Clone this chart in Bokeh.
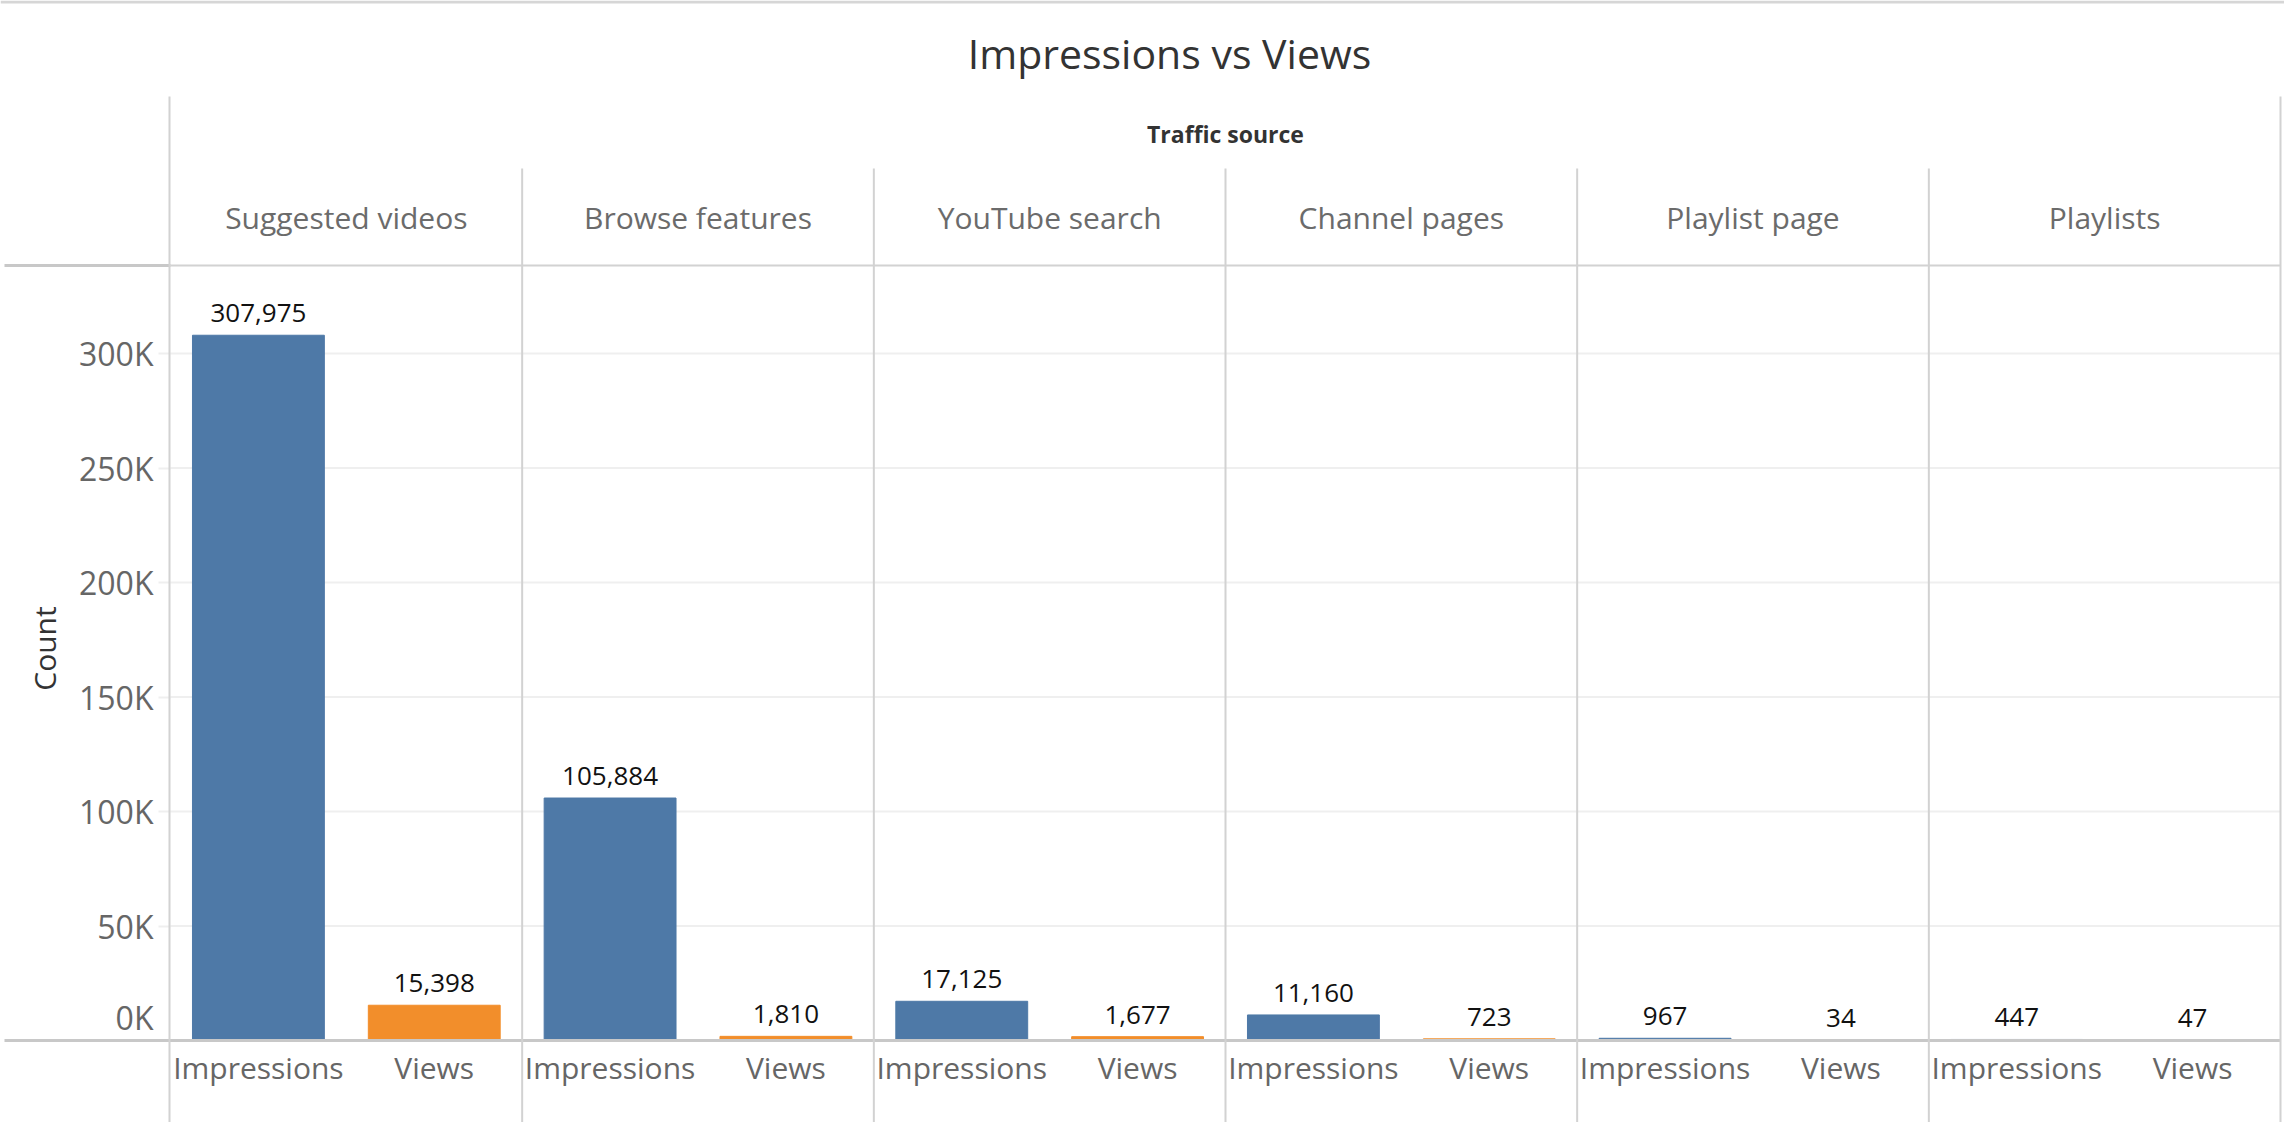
import math
from bokeh.plotting import figure
from bokeh.models import (Range1d, FixedTicker, ColumnDataSource, LinearAxis,
                          Label, BoxAnnotation)
from bokeh.core.properties import value
from bokeh.embed import file_html
from bokeh.resources import INLINE

# ---------------- data ----------------
TITLE = "Impressions vs Views"
HEADER = "Traffic source"
Y_LABEL = "Count"
sources = ["Suggested videos", "Browse features", "YouTube search",
           "Channel pages", "Playlist page", "Playlists"]
measures = ["Impressions", "Views"]
impressions = [307975, 105884, 17125, 11160, 967, 447]
views = [15398, 1810, 1677, 723, 34, 47]
y_ticks = [0, 50000, 100000, 150000, 200000, 250000, 300000]
y_tick_labels = ["0K", "50K", "100K", "150K", "200K", "250K", "300K"]

# ---------------- style / geometry ----------------
FONT = "Open Sans"
BLUE = "#4e79a7"
ORANGE = "#f28e2b"
LINE = "#d2d2d2"
DARKLINE = "#c8c8c8"
GRID = "#efefef"
W, H = 2284, 1122
FL, FR = 170, 2280              # left / right edge of the panel area (canvas px)
ZERO_Y, HEADER_Y = 1040, 265    # canvas y of value 0 and of the header rule
PPU = 687 / 300000              # pixels per unit of count

n_groups, n_meas = len(sources), len(measures)
n_slots = n_groups * n_meas
SLOT_W = (FR - FL) / n_slots    # pixels per category slot


def xd(canvas_x):               # canvas x px -> data x
    return (canvas_x - FL) / SLOT_W


def yd(canvas_y):               # canvas y px -> data y
    return (ZERO_Y - canvas_y) / PPU


def sy(canvas_y):               # canvas y px -> screen units (frame = canvas)
    return H - canvas_y


# category slots: one per (source, measure)
slot_x = [g * n_meas + m + 0.5 for g in range(n_groups) for m in range(n_meas)]
group_x = [g * n_meas + n_meas / 2 for g in range(n_groups)]
vals = [v for pair in zip(impressions, views) for v in pair]
colors = [c for _ in sources for c in (BLUE, ORANGE)]
labels = [f"{v:,}" for v in vals]
meas_names = [m for _ in sources for m in measures]
src = ColumnDataSource(dict(x=slot_x, top=vals, color=colors, label=labels))

y_header = yd(HEADER_Y)

p = figure(width=W, height=H,
           x_range=Range1d(xd(0), xd(W)), y_range=Range1d(yd(H), yd(0)),
           output_backend="svg", toolbar_location=None, tools="",
           min_border_left=0, min_border_right=0,
           min_border_top=0, min_border_bottom=0,
           outline_line_color=None, background_fill_color="white",
           border_fill_color="white", x_axis_location=None, y_axis_location=None)
p.title.visible = False
p.xgrid.visible = False
p.ygrid.visible = False

# horizontal grid lines across the panel area
p.segment(x0=0, x1=n_slots, y0=y_ticks[1:], y1=y_ticks[1:],
          line_color=GRID, line_width=2)

p.vbar(x="x", top="top", width=0.75, color="color", source=src)
p.text(x="x", y="top", text="label", source=src, text_align="center",
       text_baseline="alphabetic", y_offset=-22, text_font=value(FONT),
       text_font_size="26px", text_color="#111111")

# ---- x axis (measure names), pinned at value 0 ----
xa = LinearAxis(fixed_location=0, bounds=(xd(4), n_slots))
xa.ticker = FixedTicker(ticks=slot_x)
xa.major_label_overrides = {x: m for x, m in zip(slot_x, meas_names)}
xa.major_label_text_font = FONT
xa.major_label_text_font_size = "30px"
xa.major_label_text_color = "#666666"
xa.major_label_standoff = 0
xa.major_tick_line_color = None
xa.minor_tick_line_color = None
xa.axis_line_color = DARKLINE
xa.axis_line_width = 3
p.add_layout(xa, "below")

# ---- header axis (traffic source names) ----
top = LinearAxis(fixed_location=y_header, bounds=(0, n_slots))
top.ticker = FixedTicker(ticks=group_x)
top.major_label_overrides = {x: s for x, s in zip(group_x, sources)}
top.axis_line_color = LINE
top.axis_line_width = 2
top.major_tick_line_color = None
top.minor_tick_line_color = None
top.major_label_standoff = 22
top.major_label_text_font = FONT
top.major_label_text_font_size = "30px"
top.major_label_text_color = "#6b6b6b"
p.add_layout(top, "above")

# ---- y axis, pinned at the left edge of the panel area ----
ya = LinearAxis(fixed_location=0)
ya.ticker = FixedTicker(ticks=y_ticks[1:])
ya.major_label_overrides = {t: l for t, l in zip(y_ticks[1:], y_tick_labels[1:])}
ya.axis_line_color = None
ya.major_tick_out = 12
ya.major_tick_in = 0
ya.major_tick_line_color = GRID
ya.major_tick_line_width = 2
ya.minor_tick_line_color = None
ya.major_label_standoff = 5
ya.major_label_text_font = FONT
ya.major_label_text_font_size = "32px"
ya.major_label_text_color = "#666666"
p.add_layout(ya, "left")

# zero label sits just above the zero rule, as in the source
p.add_layout(Label(x=153, x_units="screen", y=sy(1017), y_units="screen",
                   text=y_tick_labels[0], text_align="right", text_baseline="alphabetic",
                   text_font=FONT, text_font_size="32px", text_color="#666666"))

# y axis title
p.add_layout(Label(x=44, x_units="screen", y=sy(648), y_units="screen",
                   text=Y_LABEL, angle=math.pi / 2, text_align="center",
                   text_baseline="middle", text_font=FONT, text_font_size="30px",
                   text_color="#333333"))

# ---- title + header caption ----
p.add_layout(Label(x=1169, x_units="screen", y=sy(52.5), y_units="screen",
                   text=TITLE, text_align="center", text_baseline="alphabetic",
                   text_font=FONT, text_font_size="41px", text_color="#333333"))
p.add_layout(Label(x=(FL + FR) / 2, x_units="screen", y=sy(133), y_units="screen",
                   text=HEADER, text_align="center", text_baseline="alphabetic",
                   text_font=FONT, text_font_size="23px", text_font_style="bold",
                   text_color="#333333"))


# ---- decorative rules (canvas px) ----
def rule(x0, x1, y0, y1, color=LINE):
    p.add_layout(BoxAnnotation(left=x0, right=x1, top=sy(y0), bottom=sy(y1),
                               left_units="screen", right_units="screen",
                               top_units="screen", bottom_units="screen",
                               fill_color=color, fill_alpha=1, line_color=None,
                               level="overlay"))


rule(0, W, 0, 3, "#d6d6d6")                       # top border
rule(4, FL, HEADER_Y - 1.5, HEADER_Y + 1.5, DARKLINE)  # header rule, left part
rule(FL - 2, FL, 96, H)                           # left border
rule(FR - 1, FR + 1, 96, H)                       # right border
for g in range(1, n_groups):
    xs = FL + SLOT_W * g * n_meas
    rule(xs - 1, xs + 1, 168, H)

open("out.html", "w").write(file_html(p, INLINE))
